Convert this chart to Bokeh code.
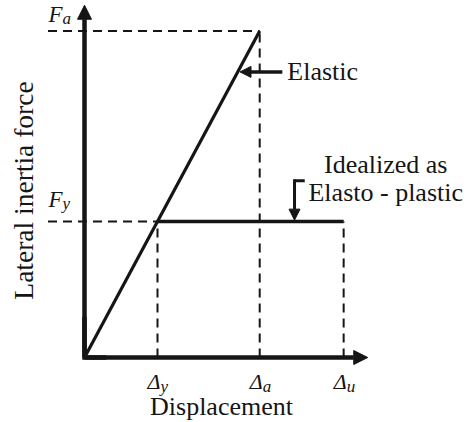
from bokeh.plotting import figure
from bokeh.models import Range1d, Arrow, NormalHead, ColumnDataSource
from bokeh.core.properties import value
from bokeh.embed import file_html
from bokeh.resources import INLINE

# Characteristic displacements (normalised by the yield displacement)
disp_subscripts = ["y", "a", "u"]
disp_values = [1.0, 2.4, 3.55]

# Characteristic forces (normalised by the yield force)
force_subscripts = ["a", "y"]
force_values = [2.4, 1.0]

delta_y, delta_a, delta_u = disp_values
F_a, F_y = force_values

INK = "#151515"
SERIF = value("Liberation Serif")

# data extent of the canvas: 73 px per displacement unit, 136 px per force unit
p = figure(width=470, height=422, output_backend="svg", toolbar_location=None,
           x_range=Range1d(-84 / 73, 386 / 73), y_range=Range1d(-65 / 136, 357 / 136),
           x_axis_type=None, y_axis_type=None, min_border=0)
p.grid.visible = False
p.outline_line_color = None
p.background_fill_color = "white"
p.border_fill_color = "white"

# --- coordinate axes drawn as arrows ---
x_axis_end, y_axis_end = 3.88, 2.59
for xe, ye in [(x_axis_end, 0), (0, y_axis_end)]:
    p.add_layout(Arrow(end=NormalHead(size=14, fill_color=INK, line_color=INK, line_width=1),
                       x_start=0, y_start=0, x_end=xe, y_end=ye,
                       line_width=4.5, line_color=INK))
p.line([0, 0, 0.3], [0.3, 0, 0], line_width=4.5, line_color=INK, line_join="miter")

# --- dashed guide lines ---
guide_x0 = -0.5
gx = [[guide_x0, delta_a], [guide_x0, delta_y],
      [delta_y, delta_y], [delta_a, delta_a], [delta_u, delta_u]]
gy = [[F_a, F_a], [F_y, F_y],
      [0, F_y], [0, F_a], [0, F_y]]
p.multi_line(gx, gy, line_color=INK, line_width=2, line_dash="9 6")

# --- elastic response and idealised elasto-plastic response ---
p.line([0, delta_a], [0, F_a], line_color=INK, line_width=3.2)
p.line([delta_y, delta_u], [F_y, F_y], line_color=INK, line_width=3.5)

# --- tick labels: Δ with subscripts ---
ticks = ColumnDataSource(dict(x=disp_values, y=[0] * 3, sub=disp_subscripts,
                              main=["Δ"] * 3))
p.text(x="x", y="y", text="main", source=ticks, text_font=SERIF,
       text_font_style="italic", text_font_size="22px", text_color=INK,
       text_align="right", text_baseline="alphabetic", x_offset=3, y_offset=24)
p.text(x="x", y="y", text="sub", source=ticks, text_font=SERIF,
       text_font_style="italic", text_font_size="17px", text_color=INK,
       text_align="left", text_baseline="alphabetic", x_offset=3, y_offset=29)

# --- force labels: F with subscripts ---
flabels = ColumnDataSource(dict(x=[0, 0], y=force_values, sub=force_subscripts,
                                main=["F", "F"], dy=[-17, -22], dys=[-13, -18]))
p.text(x="x", y="y", text="main", source=flabels, text_font=SERIF,
       text_font_style="italic", text_font_size="23px", text_color=INK,
       text_align="right", text_baseline="alphabetic", x_offset=-22, y_offset="dy")
p.text(x="x", y="y", text="sub", source=flabels, text_font=SERIF,
       text_font_style="italic", text_font_size="17px", text_color=INK,
       text_align="left", text_baseline="alphabetic", x_offset=-22, y_offset="dys")

# --- "Elastic" pointer ---
tag_y = 2.1
tag_tail_x = 2.71
p.add_layout(Arrow(end=NormalHead(size=11, fill_color=INK, line_color=INK, line_width=1),
                   x_start=tag_tail_x, y_start=tag_y,
                   x_end=tag_y * delta_a / F_a + 0.03, y_end=tag_y,
                   line_width=3.5, line_color=INK))
p.text(x=[tag_tail_x], y=[tag_y], text=["Elastic"], text_font=SERIF,
       text_font_size="26px", text_color=INK, text_align="left",
       text_baseline="alphabetic", x_offset=5, y_offset=0)

# --- "Idealized as Elasto - plastic" pointer ---
hook_x, hook_top, hook_w = 2.877, 1.30, 0.14
p.line([hook_x + hook_w, hook_x], [hook_top, hook_top], line_color=INK,
       line_width=3, line_join="miter")
p.add_layout(Arrow(end=NormalHead(size=11, fill_color=INK, line_color=INK, line_width=1),
                   x_start=hook_x, y_start=hook_top + 0.01, x_end=hook_x, y_end=F_y + 0.01,
                   line_width=3, line_color=INK))
p.text(x=[hook_x + hook_w] * 2, y=[hook_top] * 2,
       text=["Idealized as", "Elasto - plastic"], text_font=SERIF,
       text_font_size="26px", text_color=INK, text_align="center",
       text_baseline="alphabetic", x_offset=81, y_offset=[-16, 12])

# --- axis titles ---
p.text(x=[0], y=[0], text=["Displacement"], text_font=SERIF,
       text_font_size="26px", text_color=INK, text_align="center",
       text_baseline="alphabetic", x_offset=137, y_offset=49)
p.text(x=[-0.836], y=[1.228], text=["Lateral inertia force"], text_font=SERIF,
       text_font_size="27.5px", text_color=INK, text_align="center",
       text_baseline="middle", angle=1.5708)

open("out.html", "w").write(file_html(p, INLINE))
